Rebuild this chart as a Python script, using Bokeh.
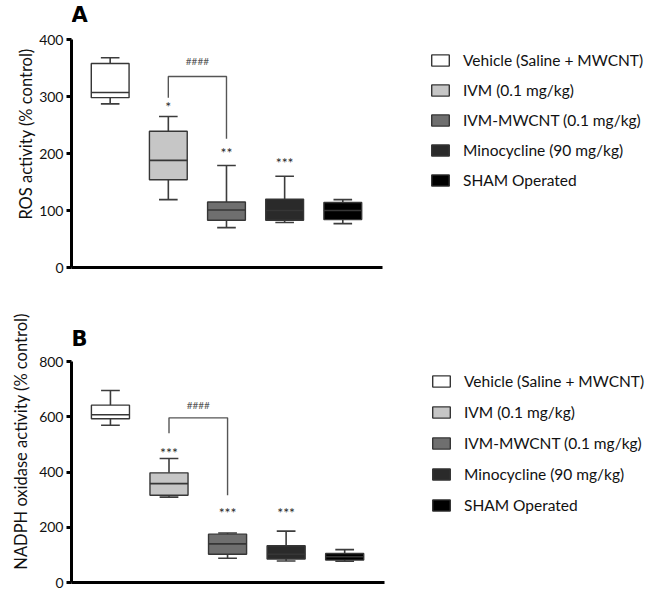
from bokeh.plotting import figure
from bokeh.layouts import column
from bokeh.models import ColumnDataSource, Range1d, FixedTicker, Label
from bokeh.core.properties import value
from bokeh.embed import file_html
from bokeh.resources import INLINE

groups = ["Vehicle (Saline + MWCNT)", "IVM (0.1 mg/kg)", "IVM-MWCNT (0.1 mg/kg)",
          "Minocycline (90 mg/kg)", "SHAM Operated"]
colors = ["#ffffff", "#c6c6c6", "#6f6f6f", "#2a2a2a", "#000000"]

# Panel A: ROS activity (% control)
ros_low = [287, 119, 70, 79, 77]
ros_q1 = [298, 154, 83, 83, 84]
ros_med = [307, 188, 101, 100, 100]
ros_q3 = [358, 239, 115, 120, 114]
ros_high = [368, 265, 179, 160, 119]
ros_stars = ["", "*", "**", "***", ""]
ros_star_y = [0, 282, 202, 184, 0]
ros_bracket_x = [1, 1, 2, 2]
ros_bracket_y = [298, 335, 335, 226]
ros_hash_y = 362

# Panel B: NADPH oxidase activity (% control)
nox_low = [569, 309, 88, 78, 77]
nox_q1 = [593, 316, 102, 85, 81]
nox_med = [607, 358, 140, 102, 93]
nox_q3 = [642, 397, 175, 133, 105]
nox_high = [695, 449, 179, 186, 119]
nox_stars = ["", "***", "***", "***", ""]
nox_star_y = [0, 472, 255, 255, 0]
nox_bracket_x = [1, 1, 2, 2]
nox_bracket_y = [540, 596, 596, 316]
nox_hash_y = 642

FONT = "Lato"
FONT_V = value(FONT)
BOX_W = 0.65
CAP_W = 0.32
X0, X1 = -0.665, 4.68   # extent of the drawn x axis (category units)


def panel(letter, ylabel, ymax, yticks, low, q1, med, q3, high, stars, star_y,
          bx, by, hash_y, geom, letter_top, legend_loc, spacing, label_standoff):
    # geom: figure height, frame left px, px from frame top to ymax, frame bottom border
    height, left, top_gap, bottom = geom
    frame_h = height - bottom
    ppu = (frame_h - top_gap) / ymax
    y_end = ymax + top_gap / ppu
    xppu = 313 / (X1 - X0)
    x_end = X0 + (648 - left) / xppu
    p = figure(width=648, height=height, output_backend="svg", toolbar_location=None,
               x_range=Range1d(X0, x_end), y_range=Range1d(0, y_end),
               min_border_left=left, min_border_right=0,
               min_border_top=0, min_border_bottom=bottom)
    p.outline_line_color = None
    p.grid.visible = False
    p.background_fill_color = None
    p.border_fill_color = None

    xs = list(range(len(groups)))
    src = ColumnDataSource(dict(x=xs, group=groups, color=colors, low=low, q1=q1,
                                med=med, q3=q3, high=high,
                                cl=[x - CAP_W / 2 for x in xs],
                                cr=[x + CAP_W / 2 for x in xs],
                                bl=[x - BOX_W / 2 for x in xs],
                                br=[x + BOX_W / 2 for x in xs]))
    wc = "#3c3c3c"
    p.segment(x0="x", y0="q3", x1="x", y1="high", source=src, line_color=wc, line_width=1.6)
    p.segment(x0="x", y0="q1", x1="x", y1="low", source=src, line_color=wc, line_width=1.6)
    p.segment(x0="cl", y0="high", x1="cr", y1="high", source=src, line_color=wc, line_width=1.6)
    p.segment(x0="cl", y0="low", x1="cr", y1="low", source=src, line_color=wc, line_width=1.6)
    p.vbar(x="x", width=BOX_W, top="q3", bottom="q1", source=src, fill_color="color",
           line_color="#363636", line_width=1.4, legend_field="group")
    p.segment(x0="bl", y0="med", x1="br", y1="med", source=src, line_color="#363636",
              line_width=1.6)

    p.text(x=xs, y=star_y, text=stars, text_align="center", text_baseline="middle",
           text_font_size="14px", text_color="#2a2a2a", text_font=FONT_V)
    p.line(bx, by, line_color="#555555", line_width=1.4)
    p.text(x=[(bx[0] + bx[2]) / 2], y=[hash_y], text=["####"], text_align="center",
           text_baseline="middle", text_font_size="10px", text_color="#555555",
           text_font=FONT_V)

    p.add_layout(Label(x=0, y=frame_h - letter_top, x_units="screen", y_units="screen",
                       text=letter, text_font="DejaVu Sans", text_font_style="bold",
                       text_font_size="21px", text_color="#000000",
                       text_baseline="top"))

    p.yaxis.bounds = (0, ymax)
    p.yaxis.ticker = FixedTicker(ticks=yticks)
    p.yaxis.minor_tick_line_color = None
    p.yaxis.major_tick_out = 5
    p.yaxis.major_tick_in = 0
    p.yaxis.major_tick_line_width = 3
    p.yaxis.axis_line_width = 3
    p.yaxis.major_label_text_font = FONT
    p.yaxis.major_label_text_font_size = "14px"
    p.yaxis.major_label_text_color = "#111111"
    p.yaxis.major_label_standoff = 3
    p.yaxis.axis_label = ylabel
    p.yaxis.axis_label_text_font = FONT
    p.yaxis.axis_label_text_font_style = "normal"
    p.yaxis.axis_label_text_font_size = "16.5px"
    p.yaxis.axis_label_text_color = "#111111"
    p.yaxis.axis_label_standoff = label_standoff

    p.xaxis.bounds = (X0, X1)
    p.xaxis.ticker = FixedTicker(ticks=[])
    p.xaxis.axis_line_width = 3
    p.xaxis.minor_tick_line_color = None
    p.xaxis.major_tick_line_color = None
    p.xaxis.major_tick_out = 0
    p.xaxis.major_label_standoff = 0

    lg = p.legend[0]
    lg.location = legend_loc
    lg.margin = 0
    lg.padding = 0
    lg.border_line_color = None
    lg.background_fill_alpha = 0
    lg.glyph_width = 22
    lg.glyph_height = 14
    lg.label_height = 20
    lg.spacing = spacing
    lg.label_standoff = 12
    lg.label_text_font = FONT
    lg.label_text_font_size = "15.5px"
    lg.label_text_color = "#111111"
    return p


pa = panel("A", "ROS activity (% control)", 400, [0, 100, 200, 300, 400],
           ros_low, ros_q1, ros_med, ros_q3, ros_high, ros_stars, ros_star_y,
           ros_bracket_x, ros_bracket_y, ros_hash_y,
           (300, 67, 39, 33), 2, (358, 77), 10, 0)
pb = panel("B", "NADPH oxidase activity (% control)", 800, [0, 200, 400, 600, 800],
           nox_low, nox_q1, nox_med, nox_q3, nox_high, nox_stars, nox_star_y,
           nox_bracket_x, nox_bracket_y, nox_hash_y,
           (291, 71, 61, 9), 26, (359, 67), 11, 5)

layout = column(pa, pb, spacing=0)
open("out.html", "w").write(file_html(layout, INLINE))
